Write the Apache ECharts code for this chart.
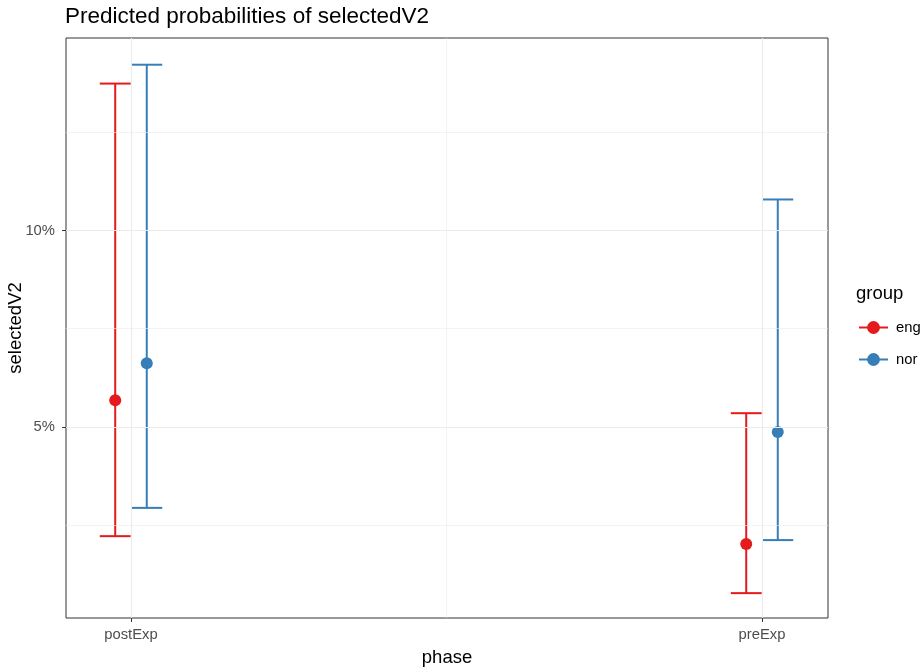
<!DOCTYPE html>
<html>
<head>
<meta charset="utf-8">
<script src="https://cdn.jsdelivr.net/npm/echarts@6/dist/echarts.min.js"></script>
<style>
  html, body { margin: 0; padding: 0; background: #fff; }
  #chart1 { width: 920px; height: 669px; }
</style>
</head>
<body>
<div id="chart1"></div>
<script>
// 数据
const phases = ['postExp', 'preExp']
const groups = ['eng', 'nor']
const groupColors = ['#E41A1C', '#377EB8']
// predicted probability (%), lower and upper CI, per phase
const engPred = [5.68, 2.02]
const engLow = [2.22, 0.77]
const engHigh = [13.74, 5.35]
const norPred = [6.62, 4.87]
const norLow = [2.94, 2.12]
const norHigh = [14.22, 10.79]
const yTicks = [5, 10]
const yMinor = [2.5, 7.5, 12.5]

const dodge = 0.025 // 分组偏移
const capWidth = 0.049

const chart1 = echarts.init(document.getElementById('chart1'))
const font = 'Liberation Sans, Arial, Helvetica, sans-serif'

function barData (low, high, off) {
    return phases.map((p, i) => [i + 1 + off, low[i], high[i]])
}
function pointData (pred, off) {
    return phases.map((p, i) => [i + 1 + off, pred[i]])
}

function renderBar (params, api) {
    const x = api.value(0)
    const lo = api.coord([x, api.value(1)])
    const hi = api.coord([x, api.value(2)])
    const half = api.size([capWidth, 0])[0] / 2
    const style = { stroke: api.visual('color'), lineWidth: 2 }
    return {
        type: 'group',
        children: [
            { type: 'line', shape: { x1: lo[0], y1: lo[1], x2: hi[0], y2: hi[1] }, style },
            { type: 'line', shape: { x1: hi[0] - half, y1: hi[1], x2: hi[0] + half, y2: hi[1] }, style },
            { type: 'line', shape: { x1: lo[0] - half, y1: lo[1], x2: lo[0] + half, y2: lo[1] }, style }
        ]
    }
}

const gridColor = '#EBEBEB'
const option = {
    animation: false,
    title: {
        text: 'Predicted probabilities of selectedV2',
        left: 65,
        top: 5,
        padding: 0,
        textStyle: { fontFamily: font, fontSize: 22.5, fontWeight: 'normal', color: '#000' }
    },
    grid: {
        left: 66, right: 92, top: 38, bottom: 51,
        outerBoundsMode: 'none',
        containLabel: false,
        show: true, borderColor: '#333333', borderWidth: 1, backgroundColor: '#fff'
    },
    legend: {
        data: groups,
        orient: 'vertical',
        left: 858,
        top: 320,
        padding: 0,
        itemWidth: 29,
        itemHeight: 16,
        itemGap: 17,
        textStyle: { fontFamily: font, fontSize: 14.8, color: '#000', padding: [0, 0, 0, 3] },
        lineStyle: { width: 2, opacity: 1 }
    },
    graphic: [
        {
            type: 'text', left: 856, top: 284,
            style: { text: 'group', fontFamily: font, fontSize: 18.5, fill: '#000' }
        }
    ],
    xAxis: {
        type: 'value',
        min: 0.897,
        max: 2.1046,
        name: 'phase',
        nameLocation: 'middle',
        nameGap: 30,
        nameMoveOverlap: false,
        nameTextStyle: { fontFamily: font, fontSize: 18.5, color: '#000' },
        axisLine: { show: false },
        splitLine: { show: false },
        axisTick: { show: true, customValues: [1, 2], length: 4, lineStyle: { color: '#333333' } },
        axisLabel: {
            customValues: [1, 2],
            formatter: (v) => phases[Math.round(v) - 1],
            fontFamily: font, fontSize: 14.8, color: '#4D4D4D', margin: 9
        }
    },
    yAxis: {
        type: 'value',
        min: 0.137,
        max: 14.9,
        name: 'selectedV2',
        nameLocation: 'middle',
        nameGap: 41,
        nameMoveOverlap: false,
        nameTextStyle: { fontFamily: font, fontSize: 18.5, color: '#000' },
        axisLine: { show: false },
        splitLine: { show: false },
        axisTick: { show: true, customValues: yTicks, length: 4, lineStyle: { color: '#333333' } },
        axisLabel: {
            customValues: yTicks,
            formatter: (v) => v + '%',
            fontFamily: font, fontSize: 14.8, color: '#4D4D4D', margin: 11
        }
    },
    series: [
        {
            // 点 (放在前面, 图例用它)
            name: groups[0], type: 'line', symbol: 'circle', symbolSize: 12,
            itemStyle: { color: groupColors[0] },
            lineStyle: { width: 2, opacity: 0 },
            data: pointData(engPred, -dodge), z: 3
        },
        {
            name: groups[1], type: 'line', symbol: 'circle', symbolSize: 12,
            itemStyle: { color: groupColors[1] },
            lineStyle: { width: 2, opacity: 0 },
            data: pointData(norPred, dodge), z: 3
        },
        {
            // 网格线
            type: 'line',
            data: [],
            silent: true,
            z: 0,
            markLine: {
                silent: true,
                symbol: 'none',
                label: { show: false },
                animation: false,
                data: [
                    ...yTicks.map(v => ({ yAxis: v, lineStyle: { color: gridColor, width: 1.1, type: 'solid' } })),
                    ...yMinor.map(v => ({ yAxis: v, lineStyle: { color: gridColor, width: 0.6, type: 'solid' } })),
                    ...[1, 2].map(v => ({ xAxis: v, lineStyle: { color: gridColor, width: 1.1, type: 'solid' } })),
                    { xAxis: 1.5, lineStyle: { color: gridColor, width: 0.6, type: 'solid' } }
                ]
            }
        },
        {
            name: groups[0], type: 'custom', renderItem: renderBar,
            itemStyle: { color: groupColors[0] },
            encode: { x: 0, y: [1, 2] },
            data: barData(engLow, engHigh, -dodge), z: 2
        },
        {
            name: groups[1], type: 'custom', renderItem: renderBar,
            itemStyle: { color: groupColors[1] },
            encode: { x: 0, y: [1, 2] },
            data: barData(norLow, norHigh, dodge), z: 2
        }
    ]
}
chart1.setOption(option)
</script>
</body>
</html>
